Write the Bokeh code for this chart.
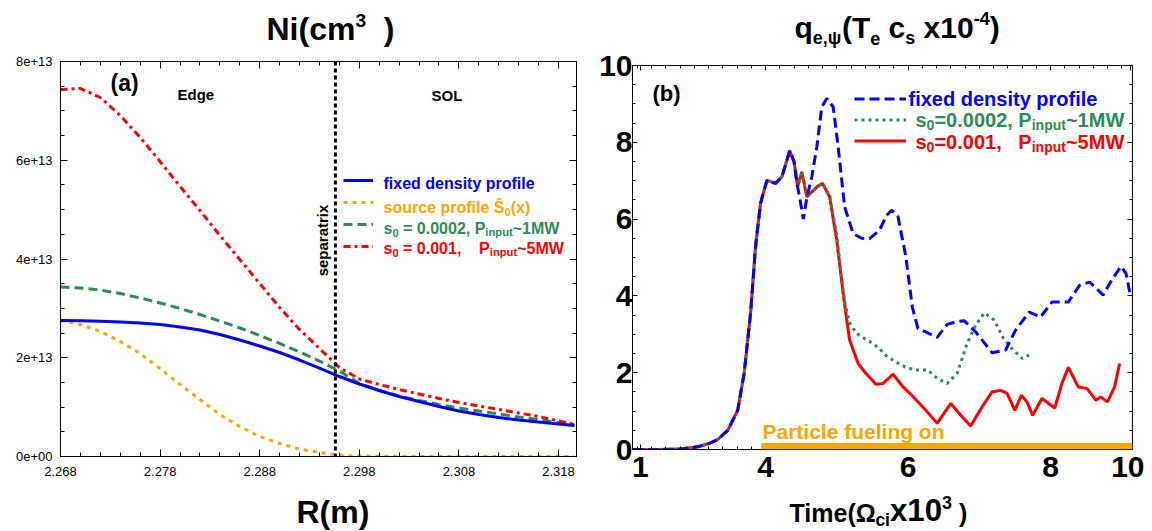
import numpy as np
from bokeh.plotting import figure
from bokeh.models import (FixedTicker, LinearAxis, Label, Legend, LegendItem, Span,
                          BoxAnnotation, CustomJSTickFormatter)
from bokeh.layouts import row, column
from bokeh.embed import file_html
from bokeh.resources import INLINE

# ---------------- panel (a) data: Ni (cm^-3) vs R (m) ----------------
R_m = [2.268, 2.270, 2.272, 2.274, 2.276, 2.278, 2.280, 2.282, 2.284, 2.286, 2.288,
       2.290, 2.292, 2.294, 2.296, 2.298, 2.300, 2.302, 2.304, 2.306, 2.308, 2.310,
       2.312, 2.314, 2.316, 2.318, 2.3196]
ni_fixed_e13 = [2.754, 2.748, 2.738, 2.724, 2.704, 2.673, 2.623, 2.562, 2.471, 2.359, 2.238,
                2.106, 1.954, 1.792, 1.620, 1.468, 1.337, 1.215, 1.114, 1.013, 0.922, 0.851,
                0.790, 0.739, 0.699, 0.658, 0.628]
ni_source_e13 = [2.754, 2.673, 2.532, 2.329, 2.086, 1.782, 1.458, 1.154, 0.851, 0.608, 0.405,
                 0.263, 0.152, 0.081, 0.030, 0.010, 0.004, 0.002, 0.001, 0.0, 0.0, 0.0,
                 0.0, 0.0, 0.0, 0.0, 0.0]
ni_s0002_e13 = [3.433, 3.413, 3.372, 3.301, 3.210, 3.109, 2.997, 2.876, 2.744, 2.603, 2.451,
                2.289, 2.116, 1.934, 1.732, 1.478, 1.337, 1.225, 1.134, 1.053, 0.982, 0.922,
                0.861, 0.800, 0.749, 0.689, 0.648]
ni_s001_e13 = [7.433, 7.453, 7.271, 6.906, 6.461, 5.975, 5.468, 4.982, 4.476, 3.990, 3.504,
               3.018, 2.572, 2.187, 1.803, 1.570, 1.458, 1.357, 1.266, 1.175, 1.094, 1.023,
               0.952, 0.881, 0.810, 0.719, 0.648]
separatrix_R = 2.2956
R_ticks = [2.268, 2.278, 2.288, 2.298, 2.308, 2.318]
R_tick_labels = ["2.268", "2.278", "2.288", "2.298", "2.308", "2.318"]
Ni_ticks = [0.0, 2e13, 4e13, 6e13, 8e13]
Ni_tick_labels = ["0e+00", "2e+13", "4e+13", "6e+13", "8e+13"]

# ---------------- panel (b) data: q_e,psi vs time ----------------
t_common = [2.14, 2.5, 2.8, 3.05, 3.2, 3.33, 3.47, 3.61, 3.70, 3.79, 3.86, 3.93, 4.02,
            4.14, 4.23, 4.34, 4.40, 4.45]
q_common = [0.0, 0.0, 0.01, 0.07, 0.15, 0.26, 0.50, 1.02, 1.98, 3.54, 5.28, 6.41, 7.01,
            6.93, 7.10, 7.78, 7.50, 6.85]
t_fixed = t_common + [4.49, 4.53, 4.58, 4.65, 4.72, 4.79, 4.86, 4.95, 5.02, 5.11, 5.23, 5.35,
                      5.46, 5.60, 5.70, 5.77, 5.86, 5.97, 6.06, 6.14, 6.25, 6.41, 6.55, 6.68,
                      6.79, 6.95, 7.18, 7.37, 7.51, 7.70, 7.86, 8.02, 8.25, 8.41, 8.55, 8.74,
                      8.87, 8.99, 9.06, 9.12]
q_fixed = q_common + [6.45, 6.00, 6.55, 7.10, 7.88, 8.92, 9.14, 8.92, 7.88, 6.32, 5.62, 5.50,
                      5.49, 5.71, 6.10, 6.23, 6.06, 5.02, 3.71, 3.15, 3.06, 2.92, 3.26, 3.33,
                      3.35, 3.06, 2.52, 2.59, 3.11, 3.58, 3.45, 3.84, 3.84, 4.28, 4.36, 4.02,
                      4.45, 4.77, 4.58, 4.02]
t_s0002 = t_common + [4.51, 4.58, 4.65, 4.73, 4.80, 4.90, 5.00, 5.06, 5.12, 5.18, 5.28, 5.40,
                      5.51, 5.60, 5.69, 5.81, 5.97, 6.11, 6.28, 6.41, 6.55, 6.69, 6.83, 6.95,
                      7.07, 7.21, 7.34, 7.46, 7.60, 7.70]
q_s0002 = q_common + [7.20, 6.60, 6.70, 6.85, 6.93, 6.60, 5.60, 4.60, 3.75, 3.30, 3.02, 2.88,
                      2.76, 2.62, 2.45, 2.30, 2.14, 2.07, 2.07, 1.85, 1.72, 1.98, 2.76, 3.24,
                      3.56, 3.37, 2.89, 2.63, 2.37, 2.46]
t_s001 = t_common + [4.51, 4.58, 4.65, 4.73, 4.80, 4.90, 5.00, 5.09, 5.18, 5.30, 5.41, 5.55,
                     5.65, 5.79, 5.93, 6.06, 6.25, 6.41, 6.60, 6.74, 6.88, 7.04, 7.18, 7.30,
                     7.39, 7.50, 7.59, 7.67, 7.75, 7.88, 8.06, 8.16, 8.25, 8.39, 8.51, 8.64,
                     8.70, 8.80, 8.90, 8.97]
q_s001 = q_common + [7.23, 6.58, 6.71, 6.85, 6.93, 6.58, 5.45, 4.06, 2.85, 2.24, 1.98, 1.70,
                     1.72, 1.96, 1.63, 1.40, 1.02, 0.68, 1.20, 0.89, 0.61, 1.11, 1.50, 1.54,
                     1.46, 1.02, 1.41, 1.24, 0.89, 1.33, 1.08, 1.72, 2.14, 1.63, 1.59, 1.28,
                     1.37, 1.24, 1.63, 2.24]
fueling_on_time = 3.94
time_ticks = [2.245, 4.0, 6.0, 8.0, 9.123]
time_tick_labels = ["1", "4", "6", "8", "10"]
q_ticks = [0, 2, 4, 6, 8, 10]
q_tick_labels = ["0", "2", "4", "6", "8", "10"]

BLUE, ORANGE, GREEN, RED = "#0000FF", "#FFA500", "#2E8B57", "#FF0000"
FONT = "Liberation Sans"
NB = "\u00a0"
BASE_CORR = 0.36  # rendered text sits ~0.36 em lower than the requested baseline

# Arial/Liberation Sans Bold advance widths (1/1000 em)
AW = {' ': 278, NB: 278, '(': 333, ')': 333, ',': 278, '-': 333, '.': 278, '=': 584,
      '~': 584, 'M': 833, 'N': 722, 'P': 667, 'R': 722, 'S': 667, '\u015c': 667, 'T': 611,
      'W': 944, '\u03a9': 768, '\u03c8': 781, 'a': 556, 'c': 556, 'd': 611, 'e': 556,
      'f': 333, 'i': 278, 'l': 278, 'm': 889, 'n': 611, 'o': 611, 'p': 611, 'q': 611,
      'r': 389, 's': 556, 't': 333, 'u': 611, 'x': 556, 'y': 556, 'g': 611}


def tw(s, size):
    return sum(AW.get(ch, 556) for ch in s) / 1000.0 * size


def rich(p, cx, cy, x0, base, F, parts, color="black", anchor="left"):
    total = sum(tw(s, F * sc) for s, sc, dy in parts)
    x = x0 - total / 2 if anchor == "center" else x0
    for s, sc, dy in parts:
        size = F * sc
        yb = base - dy * F - BASE_CORR * size
        p.add_layout(Label(x=cx(x), y=cy(yb), text=s.replace(" ", NB),
                           text_font=FONT, text_font_style="bold",
                           text_font_size=f"{size:.1f}px", text_color=color,
                           text_align="left", text_baseline="alphabetic"))
        x += tw(s, size)


def lookup_formatter(tick_values, tick_labels):
    return CustomJSTickFormatter(args=dict(tv=list(tick_values), tl=list(tick_labels)), code="""
        let best = 0, bd = Infinity;
        for (let i = 0; i < tv.length; i++) {
            const d = Math.abs(tv[i] - tick);
            if (d < bd) { bd = d; best = i; }
        }
        return tl[best];
    """)


def style_axis(ax, tick_in, minor_in, font_size, bold, standoff):
    ax.major_tick_in = tick_in
    ax.major_tick_out = 0
    ax.minor_tick_in = minor_in
    ax.minor_tick_out = 0
    ax.axis_line_color = "black"
    ax.major_tick_line_color = "black"
    ax.minor_tick_line_color = "black"
    ax.major_label_text_font = FONT
    ax.major_label_text_font_size = font_size
    ax.major_label_text_font_style = "bold" if bold else "normal"
    ax.major_label_text_color = "black"
    ax.major_label_standoff = standoff


def mirror(p, ticker, side, tick_in, minor_in):
    ax = LinearAxis(ticker=ticker, formatter=CustomJSTickFormatter(code="return '';"))
    style_axis(ax, tick_in, minor_in, "0px", False, 0)
    p.add_layout(ax, side)


def text_band(fx0, fw, total_w, h):
    # a text-only strip whose frame lines up with the plot frame below/above it
    f = figure(frame_width=fw, frame_height=h, x_range=(fx0, fx0 + fw), y_range=(0, h),
               title=None, output_backend="svg", toolbar_location=None,
               min_border_left=fx0, min_border_right=total_w - fx0 - fw,
               min_border_top=0, min_border_bottom=0,
               x_axis_location=None, y_axis_location=None)
    f.grid.visible = False
    f.outline_line_color = None
    f.background_fill_color = "white"
    f.border_fill_color = "white"
    return f


W1, W2 = 593, 551
TOP_H, BOT_H, MID_H = 48, 40, 443
BOT_Y0 = TOP_H + MID_H

# ======================= panel (a) =======================
LX0, LW, LY0, LH = 60, 516, 61, 395
xr_a = (2.268, 2.268 + LW / 9960.0)
yr_a = (0, 8e13)
p1 = figure(frame_width=LW, frame_height=LH, x_range=xr_a, y_range=yr_a, title=None,
            output_backend="svg", toolbar_location=None,
            min_border_left=LX0, min_border_right=W1 - LX0 - LW,
            min_border_top=LY0 - TOP_H, min_border_bottom=MID_H - (LY0 - TOP_H) - LH)


def ax_x(px):
    return xr_a[0] + (px - LX0) / LW * (xr_a[1] - xr_a[0])


def ax_y(py):
    return (LY0 + LH - py) / LH * yr_a[1]


E13 = 1e13
ni_fixed = [v * E13 for v in ni_fixed_e13]
ni_source = [v * E13 for v in ni_source_e13]
ni_s0002 = [v * E13 for v in ni_s0002_e13]
ni_s001 = [v * E13 for v in ni_s001_e13]

p1.add_layout(Span(location=separatrix_R, dimension="height", line_color="black",
                   line_width=3, line_dash="4 3"))
r_src = p1.line(R_m, ni_source, line_color=ORANGE, line_width=3, line_dash="4 5")
r_s0002 = p1.line(R_m, ni_s0002, line_color=GREEN, line_width=3, line_dash="9 5")
r_s001 = p1.line(R_m, ni_s001, line_color=RED, line_width=3, line_dash="7 4 3 4")
r_fix = p1.line(R_m, ni_fixed, line_color=BLUE, line_width=3)

xt_a = FixedTicker(ticks=R_ticks, minor_ticks=[round(2.268 + 0.002 * i, 4) for i in range(26)])
yt_a = FixedTicker(ticks=Ni_ticks, minor_ticks=[0.5e13 * i for i in range(17)])
p1.xaxis.ticker = xt_a
p1.xaxis.formatter = lookup_formatter(R_ticks, R_tick_labels)
p1.yaxis.ticker = yt_a
p1.yaxis.formatter = lookup_formatter(Ni_ticks, Ni_tick_labels)
style_axis(p1.xaxis[0], 7, 4, "13px", False, 10)
style_axis(p1.yaxis[0], 7, 4, "13px", False, 8)
mirror(p1, xt_a, "above", 7, 4)
mirror(p1, yt_a, "right", 7, 4)

leg1 = Legend(items=[LegendItem(label=" ", renderers=[r_fix]),
                     LegendItem(label=" ", renderers=[r_src]),
                     LegendItem(label=" ", renderers=[r_s0002]),
                     LegendItem(label=" ", renderers=[r_s001])],
              location=(283, 199), glyph_width=30, glyph_height=22, label_height=22,
              label_width=0, label_standoff=0, padding=0, margin=0, spacing=0,
              border_line_color=None, background_fill_alpha=0, label_text_font_size="1px")
p1.add_layout(leg1)

rich(p1, ax_x, ax_y, 383, 189, 16, [("fixed density profile", 1, 0)], BLUE)
rich(p1, ax_x, ax_y, 383, 213, 16, [("source profile ", 1, 0), ("\u015c", 1, 0),
                                    ("0", 0.7, -0.15), ("(x)", 1, 0)], ORANGE)
rich(p1, ax_x, ax_y, 383, 234, 16, [("s", 1, 0), ("0", 0.7, -0.15),
                                    (" = 0.0002, P", 1, 0), ("input", 0.7, -0.12),
                                    ("~1MW", 1, 0)], GREEN)
rich(p1, ax_x, ax_y, 383, 254, 16, [("s", 1, 0), ("0", 0.7, -0.15),
                                    (" = 0.001,    P", 1, 0),
                                    ("input", 0.7, -0.12), ("~5MW", 1, 0)], RED)

rich(p1, ax_x, ax_y, 110, 91, 23, [("(a)", 1, 0)])
rich(p1, ax_x, ax_y, 177, 99, 15, [("Edge", 1, 0)])
rich(p1, ax_x, ax_y, 431, 100, 15, [("SOL", 1, 0)])
p1.add_layout(Label(x=ax_x(322), y=ax_y(240), text="separatrix", angle=90, angle_units="deg",
                    text_font=FONT, text_font_style="bold", text_font_size="15px",
                    text_align="center", text_baseline="middle", text_color="black"))

ta = text_band(LX0, LW, W1, TOP_H)
rich(ta, lambda px: px, lambda py: TOP_H - py, 266, 40, 32,
     [("Ni(cm", 1, 0), ("3", 0.6, 0.42), ("  )", 1, 0)])
ba = text_band(LX0, LW, W1, BOT_H)
rich(ba, lambda px: px, lambda py: 531 - py, 296, 523, 32, [("R(m)", 1, 0)])

# ======================= panel (b) =======================
RX0, RW, RY0, RH = 632, 500, 65, 384
xr_b = (4.0 - (765 - RX0) / 71.25, 4.0 - (765 - RX0) / 71.25 + RW / 71.25)
yr_b = (0, 10)
p2 = figure(frame_width=RW, frame_height=RH, x_range=xr_b, y_range=yr_b, title=None,
            output_backend="svg", toolbar_location=None,
            min_border_left=RX0 - W1, min_border_right=W1 + W2 - RX0 - RW,
            min_border_top=RY0 - TOP_H, min_border_bottom=MID_H - (RY0 - TOP_H) - RH)


def bx(px):
    return xr_b[0] + (px - RX0) / RW * (xr_b[1] - xr_b[0])


def by(py):
    return (RY0 + RH - py) / RH * yr_b[1]


p2.add_layout(BoxAnnotation(left=fueling_on_time, bottom=0, top=0.17, fill_color=ORANGE,
                            fill_alpha=1, line_color=None))
r_b_s001 = p2.line(t_s001, q_s001, line_color=RED, line_width=3)
r_b_s0002 = p2.line(t_s0002, q_s0002, line_color=GREEN, line_width=3, line_dash="3 4")
r_b_fix = p2.line(t_fixed, q_fixed, line_color=BLUE, line_width=3, line_dash="10 5")

xt_b = FixedTicker(ticks=time_ticks, minor_ticks=[round(2.2 + 0.2 * i, 2) for i in range(35)])
yt_b = FixedTicker(ticks=q_ticks, minor_ticks=[0.5 * i for i in range(21)])
p2.xaxis.ticker = xt_b
p2.xaxis.formatter = lookup_formatter(time_ticks, time_tick_labels)
p2.yaxis.ticker = yt_b
p2.yaxis.formatter = lookup_formatter(q_ticks, q_tick_labels)
style_axis(p2.xaxis[0], 5, 3, "30px", True, 7)
style_axis(p2.yaxis[0], 5, 3, "30px", True, 0)
mirror(p2, xt_b, "above", 5, 3)
mirror(p2, yt_b, "right", 5, 3)

leg2 = Legend(items=[LegendItem(label=" ", renderers=[r_b_fix]),
                     LegendItem(label=" ", renderers=[r_b_s0002]),
                     LegendItem(label=" ", renderers=[r_b_s001])],
              location=(222, 298), glyph_width=52, glyph_height=21, label_height=21,
              label_width=0, label_standoff=0, padding=0, margin=0, spacing=0,
              border_line_color=None, background_fill_alpha=0, label_text_font_size="1px")
p2.add_layout(leg2)

rich(p2, bx, by, 908, 106, 20, [("fixed density profile", 1, 0)], BLUE)
rich(p2, bx, by, 915, 127, 20, [("s", 1, 0), ("0", 0.7, -0.15), ("=0.0002, P", 1, 0),
                                ("input", 0.7, -0.12), ("~1MW", 1, 0)], GREEN)
rich(p2, bx, by, 915, 149, 20, [("s", 1, 0), ("0", 0.7, -0.15),
                                ("=0.001,   P", 1, 0),
                                ("input", 0.7, -0.12), ("~5MW", 1, 0)], RED)
rich(p2, bx, by, 652, 101, 22, [("(b)", 1, 0)])
rich(p2, bx, by, 762, 439, 21, [("Particle fueling on", 1, 0)], ORANGE)

tb = text_band(RX0 - W1, RW, W2, TOP_H)
rich(tb, lambda px: px - W1, lambda py: TOP_H - py, 794, 38, 30,
     [("q", 1, 0), ("e,\u03c8", 0.6, -0.2), ("(T", 1, 0), ("e", 0.6, -0.2), (" c", 1, 0),
      ("s", 0.6, -0.2), (" x10", 1, 0), ("-4", 0.6, 0.45), (")", 1, 0)])
bb = text_band(RX0 - W1, RW, W2, BOT_H)
rich(bb, lambda px: px - W1, lambda py: 531 - py, 789, 521, 25,
     [("Time(\u03a9", 1, 0), ("ci", 0.7, -0.2), ("x10", 1.25, 0), ("3", 0.72, 0.5),
      (" )", 1, 0)])

for p in (p1, p2):
    p.grid.visible = False
    p.outline_line_color = "black"
    p.outline_line_alpha = 1
    p.background_fill_color = "white"
    p.border_fill_color = "white"

layout = row(column(ta, p1, ba), column(tb, p2, bb))
open("out.html", "w").write(file_html(layout, INLINE))
